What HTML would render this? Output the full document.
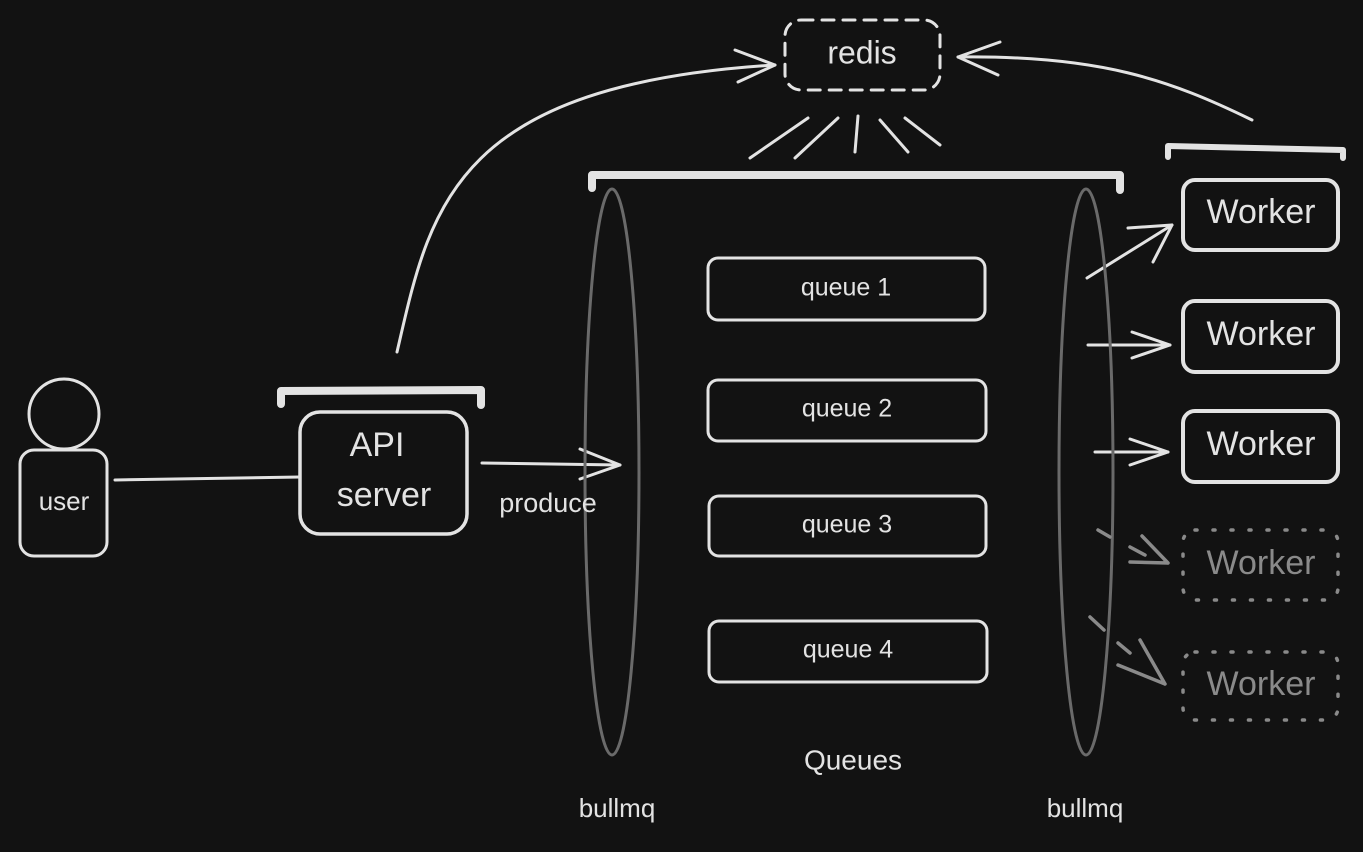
<!DOCTYPE html>
<html><head><meta charset="utf-8"><style>
html,body{margin:0;padding:0;background:#121212;}
svg{display:block}
text{font-family:"Liberation Sans",sans-serif;fill:#e3e3e3;text-anchor:middle;dominant-baseline:middle}
</style></head><body>
<svg width="1363" height="852" viewBox="0 0 1363 852" xmlns="http://www.w3.org/2000/svg">
<rect width="1363" height="852" fill="#121212"/>
<g fill="none" stroke="#e3e3e3" stroke-width="3" stroke-linecap="round" stroke-linejoin="round">
  <!-- redis -->
  <rect x="785" y="20" width="155" height="70" rx="16" stroke-dasharray="12 9"/>
  <line x1="750" y1="158" x2="808" y2="118"/>
  <line x1="795" y1="158" x2="838" y2="118"/>
  <line x1="855" y1="152" x2="858" y2="116"/>
  <line x1="880" y1="120" x2="908" y2="152"/>
  <line x1="905" y1="118" x2="940" y2="145"/>
  <!-- API -> redis -->
  <path d="M397,352 C430,210 450,85 775,65"/>
  <path d="M735,50 L775,65 L738,82"/>
  <!-- worker -> redis -->
  <path d="M1252,120 C1170,80 1100,55 958,57"/>
  <path d="M1000,42 L958,57 L998,75"/>
  <!-- brackets -->
  <path d="M592,188 L592,175 L1120,175 L1120,190" stroke-width="8"/>
  <path d="M1168,157 L1168,146 L1343,150 L1343,158" stroke-width="6"/>
  <path d="M281,404 L281,391 L481,390 L481,405" stroke-width="8"/>
  <!-- queues -->
  <rect x="708" y="258" width="277" height="62" rx="10"/>
  <rect x="708" y="380" width="278" height="61" rx="10"/>
  <rect x="709" y="496" width="277" height="60" rx="10"/>
  <rect x="709" y="621" width="278" height="61" rx="10"/>
  <!-- workers -->
  <rect x="1183" y="180" width="155" height="70" rx="12" stroke-width="4"/>
  <rect x="1183" y="301" width="155" height="71" rx="12" stroke-width="4"/>
  <rect x="1183" y="411" width="155" height="71" rx="12" stroke-width="4"/>
  <!-- worker arrows -->
  <line x1="1087" y1="278" x2="1172" y2="225"/>
  <path d="M1128,228 L1172,225 L1153,262"/>
  <line x1="1088" y1="345" x2="1170" y2="345"/>
  <path d="M1132,332 L1170,345 L1132,358"/>
  <line x1="1095" y1="452" x2="1168" y2="452"/>
  <path d="M1130,439 L1168,452 L1130,465"/>
  <!-- user -->
  <circle cx="64" cy="414" r="35"/>
  <rect x="20" y="450" width="87" height="106" rx="14"/>
  <line x1="115" y1="480" x2="300" y2="477"/>
  <!-- API -->
  <rect x="300" y="412" width="167" height="122" rx="20" stroke-width="3.5"/>
  <line x1="482" y1="463" x2="620" y2="465"/>
  <path d="M580,449 L620,465 L580,479"/>
</g>
<g fill="none" stroke="#6a6a6a" stroke-width="3">
  <ellipse cx="612" cy="472" rx="27" ry="283"/>
  <ellipse cx="1086" cy="472" rx="27" ry="283"/>
</g>
<g fill="none" stroke="#8a8a8a" stroke-width="3.5" stroke-linecap="round">
  <rect x="1183" y="530" width="155" height="70" rx="12" stroke-dasharray="2 16"/>
  <rect x="1183" y="652" width="155" height="68" rx="12" stroke-dasharray="2 16"/>
  <path d="M1098,530 L1110,537 M1130,547 L1145,555 M1130,562 L1168,563 M1142,536 L1168,563"/>
  <path d="M1090,617 L1104,630 M1118,643 L1130,653 M1118,665 L1165,684 M1140,640 L1165,684"/>
</g>
<text x="862" y="55" font-size="32">redis</text>
<text x="846" y="289" font-size="25">queue 1</text>
<text x="847" y="410" font-size="25">queue 2</text>
<text x="847" y="526" font-size="25">queue 3</text>
<text x="848" y="651" font-size="25">queue 4</text>
<text x="853" y="762" font-size="28">Queues</text>
<text x="617" y="810" font-size="26">bullmq</text>
<text x="1085" y="810" font-size="26">bullmq</text>
<text x="1261" y="214" font-size="34">Worker</text>
<text x="1261" y="336" font-size="34">Worker</text>
<text x="1261" y="446" font-size="34">Worker</text>
<text x="1261" y="565" font-size="34" style="fill:#8a8a8a">Worker</text>
<text x="1261" y="686" font-size="34" style="fill:#8a8a8a">Worker</text>
<text x="64" y="503" font-size="26">user</text>
<text x="377" y="447" font-size="34">API</text>
<text x="384" y="497" font-size="34">server</text>
<text x="548" y="505" font-size="27">produce</text>
</svg>
</body></html>
